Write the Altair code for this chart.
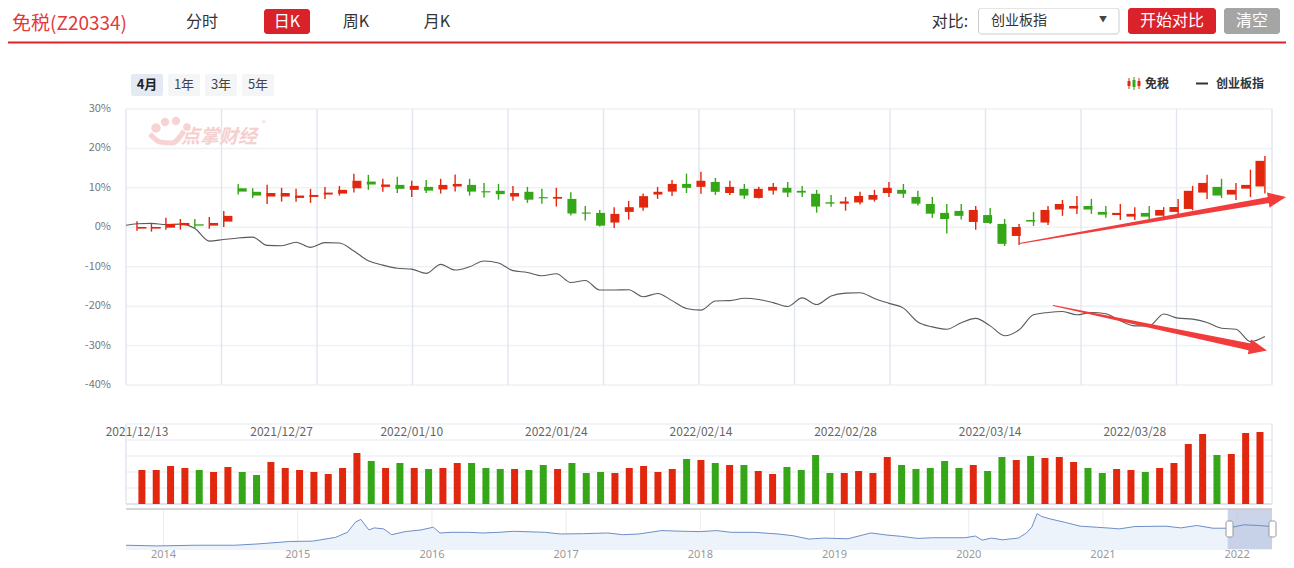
import math
import altair as alt
import pandas as pd
import numpy as np

FONT = "Noto Sans CJK SC"
OX, OY = 8, 8
W, H = 1278, 560


def px(v):
    return v - OX


def py(v):
    return v - OY


RED = "#e2270f"
GREEN = "#35a617"
HDR_RED = "#d9222a"

# ---------------- data ----------------
holidays = pd.to_datetime(["2022-01-03", "2022-01-31", "2022-02-01", "2022-02-02",
                           "2022-02-03", "2022-02-04", "2022-04-04", "2022-04-05"])
days = [d for d in pd.bdate_range("2021-12-13", "2022-04-12") if d not in holidays]
dates = [d.strftime("%Y/%m/%d") for d in days]

opens = [-0.34, -0.34, -0.1, 0.5, 0.76, 0.42, 1.44, 9.9, 9.0, 7.8,
         7.8, 7.45, 7.7, 8.3, 8.55, 9.9, 11.6, 10.25, 10.75, 9.5,
         10.25, 9.6, 10.35, 10.75, 9.15, 9.25, 7.8, 9.0, 7.65, 7.25,
         7.2, 3.75, 3.65, 1.2, 3.9, 5.0, 8.3, 9.05, 11.0, 10.25,
         11.5, 8.7, 9.75, 7.45, 9.3, 10.0, 9.25, 8.5, 6.35, 6.0,
         6.3, 7.0, 8.7, 9.5, 7.7, 5.9, 3.65, 4.15, 1.35, 3.1,
         0.85, -2.2, 1.85, 1.2, 4.5, 4.75, 5.4, 3.9, 3.1, 2.7,
         3.65, 2.95, 3.9, 4.65, 8.8, 10.25, 8.3, 9.8, 10.35]
closes = [0.08, 0.08, 0.85, 1.1, 0.42, 1.1, 2.9, 9.05, 8.05, 8.7,
          8.7, 8.05, 8.2, 8.8, 9.5, 11.8, 10.85, 10.85, 9.75, 10.5,
          9.3, 10.75, 11.0, 9.05, 8.85, 8.4, 8.7, 7.0, 7.35, 7.7,
          3.5, 3.45, 0.42, 3.4, 5.1, 7.9, 9.0, 11.0, 10.0, 11.8,
          9.0, 10.25, 8.05, 9.75, 10.25, 8.8, 8.8, 5.25, 6.0, 6.55,
          7.95, 8.2, 10.0, 8.5, 6.0, 3.45, 2.1, 2.9, 4.4, 1.1,
          -4.2, 0.08, 1.45, 4.4, 5.9, 5.4, 4.5, 3.2, 3.65, 3.4,
          2.7, 4.4, 5.15, 9.25, 11.25, 8.05, 9.5, 10.75, 16.85]
highs = [1.5, 0.85, 2.4, 2.1, 2.1, 2.6, 4.15, 11.0, 9.9, 10.8,
         10.0, 9.75, 9.75, 10.2, 10.5, 13.6, 13.3, 12.3, 12.8, 11.8,
         12.0, 12.3, 13.4, 12.3, 11.25, 11.0, 10.5, 10.25, 9.75, 10.0,
         8.9, 5.4, 4.4, 5.1, 6.7, 8.6, 10.25, 12.0, 13.6, 14.1,
         12.5, 11.8, 11.0, 10.25, 11.25, 11.5, 10.5, 9.5, 8.2, 7.7,
         9.0, 9.5, 11.5, 11.0, 9.25, 7.7, 5.9, 5.9, 5.4, 4.9,
         2.1, 0.85, 3.9, 5.4, 6.95, 7.95, 7.2, 5.4, 5.9, 5.1,
         5.4, 5.1, 7.2, 10.5, 13.3, 12.3, 11.25, 14.6, 18.1]
lows = [-0.85, -1.1, -0.6, -0.6, -0.4, -0.4, 0.08, 8.3, 7.45, 5.9,
        6.5, 6.45, 6.2, 7.2, 8.05, 8.8, 9.5, 9.0, 8.7, 7.7,
        8.7, 8.55, 9.05, 8.05, 7.55, 7.0, 6.75, 6.2, 6.0, 5.25,
        3.0, 1.7, 0.17, -0.17, 1.95, 4.2, 7.2, 7.95, 8.7, 8.5,
        8.2, 8.2, 7.2, 7.3, 8.3, 7.7, 7.7, 3.7, 5.2, 4.2,
        5.75, 6.5, 7.7, 7.45, 5.5, 2.4, -1.6, 1.95, -0.6, 0.85,
        -4.75, -4.5, 0.35, 0.6, 2.9, 3.4, 3.4, 2.4, 1.85, 1.85,
        2.1, 1.85, 2.95, 4.3, 7.2, 7.45, 6.95, 7.7, 8.55]
volumes = [34, 34, 38, 36, 34, 32, 37, 32, 29, 42,
           36, 34, 32, 30, 36, 51, 43, 36, 41, 36,
           35, 36, 41, 41, 36, 35, 35, 34, 39, 35,
           41, 31, 32, 31, 36, 38, 32, 35, 45,
           44, 41, 39, 39, 33, 30, 37, 34, 49, 31,
           31, 33, 31, 47, 39, 35, 36, 43, 36, 39,
           33, 47, 44, 48, 46, 47, 42, 36, 31, 35,
           34, 32, 36, 41, 60, 70, 49, 50, 71, 72]

cyb_x = [-0.76] + list(range(79))
cyb = [0.5, 0.9, 1.0, 0.7, 0.8, -0.3, -3.5, -3.1, -2.7, -2.5, -4.6,
       -4.7, -3.8, -5.1, -3.9, -4.0, -6.0, -8.5, -9.6, -10.4, -10.6,
       -11.7, -9.4, -10.85, -10.0, -8.55, -9.05, -11.0, -11.45, -12.3, -11.8,
       -14.0, -13.5, -15.9, -15.9, -15.85, -17.6, -16.8, -18.6, -20.6, -21.0,
       -18.7, -18.6, -18.0, -18.3, -19.1, -20.1, -17.9, -19.6, -17.4, -16.7,
       -16.6, -18.05, -19.3, -20.5, -24.0, -25.25, -25.85, -24.2, -23.1, -25.0,
       -27.5, -26.0, -22.2, -21.6, -21.35, -22.2, -21.6, -21.95, -23.7, -25.0,
       -25.0, -22.0, -23.05, -23.3, -24.15, -25.6, -25.85, -29.0, -27.7]

nav_year = [2013.72, 2013.95, 2014.24, 2014.53, 2014.71, 2014.94, 2015.11, 2015.28, 2015.37, 2015.43,
            2015.47, 2015.53, 2015.57, 2015.64, 2015.70, 2015.80, 2015.92, 2016.01, 2016.06, 2016.15,
            2016.27, 2016.38, 2016.50, 2016.61, 2016.84, 2016.96, 2017.13, 2017.31, 2017.42, 2017.54,
            2017.71, 2017.88, 2018.00, 2018.12, 2018.23, 2018.40, 2018.58, 2018.69, 2018.81, 2018.92,
            2019.10, 2019.21, 2019.27, 2019.39, 2019.50, 2019.62, 2019.73, 2019.97, 2020.05, 2020.10,
            2020.17, 2020.25, 2020.37, 2020.43, 2020.47, 2020.51, 2020.54, 2020.60, 2020.72, 2020.83,
            2020.95, 2021.06, 2021.12, 2021.24, 2021.47, 2021.58, 2021.70, 2021.82, 2021.93, 2022.05,
            2022.16, 2022.26]
nav_val = [14, 12, 14, 14, 18, 25, 26, 37, 52, 82,
           90, 59, 65, 62, 45, 54, 59, 67, 50, 52,
           52, 50, 52, 55, 52, 47, 48, 50, 45, 47,
           57, 55, 54, 57, 52, 52, 47, 42, 32, 35,
           33, 44, 50, 44, 40, 34, 36, 36, 41, 29,
           35, 30, 35, 50, 67, 107, 99, 92, 81, 70,
           67, 64, 62, 69, 70, 65, 72, 64, 64, 74,
           72, 69]
nav_years = list(range(2014, 2023))

y_ticks = [30, 20, 10, 0, -10, -20, -30, -40]
label_idx = [0, 10, 19, 29, 39, 49, 59, 69]

# ---------------- scales ----------------
X_DOM = [-0.76, 78.49]
X_MAIN = alt.Scale(domain=X_DOM, range=[px(126), px(1272)], nice=False, zero=False)
Y_MAIN = alt.Scale(domain=[-40, 30], range=[py(385), py(109)], nice=False, zero=False)
Y_VOL = alt.Scale(domain=[0, 80], range=[py(504), py(424)], nice=False, zero=False)
X_NAV = alt.Scale(domain=[2013.72, 2022.26], range=[px(126), px(1272)], nice=False, zero=False)
Y_NAV = alt.Scale(domain=[0, 119], range=[py(550), py(509.5)], nice=False, zero=False)

df = pd.DataFrame(dict(i=list(range(79)), date=dates, open=opens, close=closes,
                       high=highs, low=lows, vol=volumes))
df["color"] = np.where(df["close"] >= df["open"], RED, GREEN)

layers = []


def pix_x(f="x"):
    return alt.X(f"{f}:Q", scale=None, axis=None)


def pix_y(f="y"):
    return alt.Y(f"{f}:Q", scale=None, axis=None)


def texts(items, **kw):
    d = pd.DataFrame(items)
    d["x"] = d["x"].map(px)
    d["y"] = d["y"].map(py)
    return alt.Chart(d).mark_text(font=FONT, **kw).encode(x=pix_x(), y=pix_y(), text="t:N")


def rects(items, **kw):
    d = pd.DataFrame(items)
    for c in ["x", "x2"]:
        d[c] = d[c].map(px)
    for c in ["y", "y2"]:
        d[c] = d[c].map(py)
    return alt.Chart(d).mark_rect(**kw).encode(
        x=pix_x(), x2="x2:Q", y=pix_y(), y2="y2:Q",
        color=alt.Color("c:N", scale=None, legend=None))


# ---------------- main panel grid ----------------
layers.append(alt.Chart(pd.DataFrame({"v": y_ticks})).mark_rule(color="#eef1f5", strokeWidth=1.5).encode(
    y=alt.Y("v:Q", scale=Y_MAIN, axis=None), x=alt.value(px(126)), x2=alt.value(px(1272))))
vgrid = [X_DOM[0] + k * (X_DOM[1] - X_DOM[0]) / 12 for k in range(13)]
layers.append(alt.Chart(pd.DataFrame({"v": vgrid})).mark_rule(color="#e1e6ee", strokeWidth=1.4).encode(
    x=alt.X("v:Q", scale=X_MAIN, axis=None), y=alt.value(py(109)), y2=alt.value(py(385))))

# watermark (logo blobs + name)
layers.append(alt.Chart(pd.DataFrame({"x": [px(v) for v in [156, 165, 176, 187]],
                                      "y": [py(v) for v in [128, 122, 121, 127]],
                                      "s": [90, 70, 70, 60]}))
              .mark_point(filled=True, color="#f7d3d3", opacity=1)
              .encode(x=pix_x(), y=pix_y(), size=alt.Size("s:Q", scale=None, legend=None)))
layers.append(alt.Chart(pd.DataFrame({"x": [px(150), px(160), px(172), px(184)],
                                      "y": [py(134), py(142), py(143), py(131)], "a": [0, 0, 0, 0]}))
              .mark_line(color="#f7d3d3", strokeWidth=5, interpolate="monotone")
              .encode(x=pix_x(), y=pix_y(), detail="a:N"))
layers.append(texts([{"x": 181, "y": 137, "t": "点掌财经"}], fontSize=19, fontWeight="bold",
                    color="#f6cfcf", align="left", baseline="middle", fontStyle="italic"))
layers.append(texts([{"x": 262, "y": 124, "t": "®"}], fontSize=8, color="#f6cfcf", align="left",
                    baseline="middle"))

# y labels
layers.append(alt.Chart(pd.DataFrame({"v": y_ticks, "t": [f"{v}%" for v in y_ticks]}))
              .mark_text(font=FONT, fontSize=11, color="#777777", align="right", baseline="middle")
              .encode(y=alt.Y("v:Q", scale=Y_MAIN, axis=None), x=alt.value(px(111)), text="t:N"))

# comparison line
layers.append(alt.Chart(pd.DataFrame({"i": cyb_x, "v": cyb}))
              .mark_line(color="#5a5a5a", strokeWidth=1.1, interpolate="monotone")
              .encode(x=alt.X("i:Q", scale=X_MAIN, axis=None), y=alt.Y("v:Q", scale=Y_MAIN, axis=None)))

# candles
layers.append(alt.Chart(df).mark_rule(strokeWidth=1.4).encode(
    x=alt.X("i:Q", scale=X_MAIN, axis=None),
    y=alt.Y("low:Q", scale=Y_MAIN, axis=None), y2="high:Q",
    color=alt.Color("color:N", scale=None, legend=None)))
layers.append(alt.Chart(df).mark_bar(size=9).encode(
    x=alt.X("i:Q", scale=X_MAIN, axis=None),
    y=alt.Y("open:Q", scale=Y_MAIN, axis=None), y2="close:Q",
    color=alt.Color("color:N", scale=None, legend=None)))

# ---------------- volume panel ----------------
layers.append(alt.Chart(pd.DataFrame({"v": [16, 32, 48, 64, 80]})).mark_rule(color="#eef1f5", strokeWidth=1.5).encode(
    y=alt.Y("v:Q", scale=Y_VOL, axis=None), x=alt.value(px(126)), x2=alt.value(px(1272))))
layers.append(alt.Chart(pd.DataFrame({"v": [0]})).mark_rule(color="#d3dbe8", strokeWidth=1.5).encode(
    y=alt.Y("v:Q", scale=Y_VOL, axis=None), x=alt.value(px(126)), x2=alt.value(px(1272))))
layers.append(alt.Chart(pd.DataFrame({"v": [X_DOM[0], X_DOM[1]]})).mark_rule(color="#e1e6ee", strokeWidth=1.4).encode(
    x=alt.X("v:Q", scale=X_MAIN, axis=None), y=alt.value(py(424)), y2=alt.value(py(504))))
layers.append(alt.Chart(df).mark_bar(size=7).encode(
    x=alt.X("i:Q", scale=X_MAIN, axis=None),
    y=alt.Y("vol:Q", scale=Y_VOL, axis=None), y2=alt.datum(0),
    color=alt.Color("color:N", scale=None, legend=None)))
layers.append(alt.Chart(pd.DataFrame({"i": label_idx, "t": [dates[k] for k in label_idx]}))
              .mark_text(font=FONT, fontSize=12, color="#666666", baseline="middle")
              .encode(x=alt.X("i:Q", scale=X_MAIN, axis=None), y=alt.value(py(432)), text="t:N"))

# ---------------- navigator ----------------
nav = pd.DataFrame({"yr": nav_year, "v": nav_val})
layers.append(alt.Chart(pd.DataFrame({"yr": nav_years})).mark_rule(color="#ebebeb", strokeWidth=1).encode(
    x=alt.X("yr:Q", scale=X_NAV, axis=None), y=alt.value(py(509)), y2=alt.value(py(549))))
layers.append(alt.Chart(nav).mark_area(color="#edf3fa", opacity=1).encode(
    x=alt.X("yr:Q", scale=X_NAV, axis=None), y=alt.Y("v:Q", scale=Y_NAV, axis=None), y2=alt.datum(0)))
layers.append(alt.Chart(pd.DataFrame({"a": [2021.93], "b": [2022.26]})).mark_rect(color="#b9c6e1", opacity=0.75).encode(
    x=alt.X("a:Q", scale=X_NAV, axis=None), x2="b:Q", y=alt.value(py(509)), y2=alt.value(py(549))))
layers.append(alt.Chart(nav).mark_line(color="#6d8ec6", strokeWidth=1).encode(
    x=alt.X("yr:Q", scale=X_NAV, axis=None), y=alt.Y("v:Q", scale=Y_NAV, axis=None)))
layers.append(alt.Chart(pd.DataFrame({"v": [0]})).mark_rule(color="#c8c8c8", strokeWidth=1.5).encode(
    y=alt.value(py(509)), x=alt.value(px(126)), x2=alt.value(px(1272))))
layers.append(alt.Chart(pd.DataFrame({"yr": nav_years, "t": [str(y) for y in nav_years]}))
              .mark_text(font="Noto Sans", fontSize=11, color="#999999", baseline="middle")
              .encode(x=alt.X("yr:Q", scale=X_NAV, axis=None), y=alt.value(py(555)), text="t:N"))
layers.append(rects([{"x": 1226, "x2": 1233, "y": 521, "y2": 537, "c": "#ffffff"},
                     {"x": 1269, "x2": 1276, "y": 521, "y2": 537, "c": "#ffffff"}],
                    cornerRadius=2, stroke="#999999", strokeWidth=1))

# ---------------- header ----------------
layers.append(rects([{"x": 0, "x2": 1294, "y": 41.5, "y2": 43.5, "c": HDR_RED}]))
layers.append(rects([{"x": 264, "x2": 310, "y": 9, "y2": 34, "c": HDR_RED},
                     {"x": 1128, "x2": 1216, "y": 8, "y2": 34, "c": HDR_RED},
                     {"x": 1224, "x2": 1280, "y": 8, "y2": 34, "c": "#a5a5a5"}], cornerRadius=3))
layers.append(rects([{"x": 978.5, "x2": 1119, "y": 8, "y2": 34, "c": "#ffffff"}],
                    cornerRadius=3, stroke="#cccccc", strokeWidth=1))
layers.append(texts([{"x": 12, "y": 24, "t": "免税(Z20334)"}], fontSize=19, color="#e4393c",
                    align="left", baseline="middle"))
layers.append(texts([{"x": 202, "y": 21.5, "t": "分时"}, {"x": 356, "y": 21.5, "t": "周K"},
                     {"x": 437, "y": 21.5, "t": "月K"}, {"x": 950, "y": 21.5, "t": "对比:"}],
                    fontSize=16, color="#333333", align="center", baseline="middle"))
layers.append(texts([{"x": 287, "y": 21.5, "t": "日K"}, {"x": 1172, "y": 21, "t": "开始对比"},
                     {"x": 1252, "y": 21, "t": "清空"}],
                    fontSize=16, color="#ffffff", align="center", baseline="middle"))
layers.append(texts([{"x": 991, "y": 20.5, "t": "创业板指"}], fontSize=14, color="#333333",
                    align="left", baseline="middle"))
layers.append(texts([{"x": 1103, "y": 20, "t": "▼"}], fontSize=8, color="#444444",
                    align="center", baseline="middle"))

# range buttons
layers.append(rects([{"x": 131, "x2": 163, "y": 74, "y2": 96, "c": "#e4eaf4"},
                     {"x": 168, "x2": 200, "y": 74, "y2": 96, "c": "#f4f5f7"},
                     {"x": 205, "x2": 237, "y": 74, "y2": 96, "c": "#f4f5f7"},
                     {"x": 242, "x2": 274, "y": 74, "y2": 96, "c": "#f4f5f7"}], cornerRadius=2))
layers.append(texts([{"x": 147, "y": 85, "t": "4月"}], fontSize=13, fontWeight="bold",
                    color="#222222", align="center", baseline="middle"))
layers.append(texts([{"x": 184, "y": 85, "t": "1年"}, {"x": 221, "y": 85, "t": "3年"},
                     {"x": 258, "y": 85, "t": "5年"}], fontSize=13, color="#444444",
                    align="center", baseline="middle"))

# legend
leg = pd.DataFrame({"x": [px(1129), px(1134), px(1139)], "lo": [py(78), py(77), py(78)],
                    "hi": [py(89), py(90), py(89)], "b1": [py(81), py(80), py(81)],
                    "b2": [py(86), py(87), py(86)], "c": [RED, GREEN, RED]})
layers.append(alt.Chart(leg).mark_rule(strokeWidth=1).encode(
    x=pix_x(), y=pix_y("lo"), y2="hi:Q", color=alt.Color("c:N", scale=None, legend=None)))
layers.append(alt.Chart(leg).mark_bar(size=3).encode(
    x=pix_x(), y=pix_y("b1"), y2="b2:Q", color=alt.Color("c:N", scale=None, legend=None)))
layers.append(texts([{"x": 1145, "y": 83.5, "t": "免税"}, {"x": 1216, "y": 83.5, "t": "创业板指"}],
                    fontSize=12, fontWeight="bold", color="#333333", align="left", baseline="middle"))
layers.append(alt.Chart(pd.DataFrame({"x": [px(1196)], "x2": [px(1208)], "y": [py(83.5)]}))
              .mark_rule(color="#333333", strokeWidth=2).encode(x=pix_x(), x2="x2:Q", y=pix_y()))

# ---------------- arrows ----------------
ARROW = "#f23b3b"
arrows = [((1019.5, 243.5), (1286.0, 197.0), 6.0), ((1053.3, 305.5), (1267.0, 350.5), 7.0)]
trail_rows, head_rows = [], []
HEAD_L = 18.0
for k, (t, p, wmax) in enumerate(arrows):
    dx, dy = p[0] - t[0], p[1] - t[1]
    ln = math.hypot(dx, dy)
    ux, uy = dx / ln, dy / ln
    base = (p[0] - (HEAD_L - 2) * ux, p[1] - (HEAD_L - 2) * uy)
    trail_rows.append({"a": k, "x": px(t[0]), "y": py(t[1]), "s": 1.0})
    trail_rows.append({"a": k, "x": px(base[0]), "y": py(base[1]), "s": wmax})
    ang = math.degrees(math.atan2(dy, dx)) % 360
    head_rows.append({"x": px(p[0] - HEAD_L / 2 * ux), "y": py(p[1] - HEAD_L / 2 * uy), "ang": ang})

layers.append(alt.Chart(pd.DataFrame(trail_rows)).mark_trail(color=ARROW).encode(
    x=pix_x(), y=pix_y(), size=alt.Size("s:Q", scale=None, legend=None), detail="a:N"))
layers.append(alt.Chart(pd.DataFrame(head_rows)).mark_point(
    shape="M -1 -0.85 L 1 0 L -1 0.85 Z", filled=True, color=ARROW, opacity=1, size=HEAD_L ** 2)
    .encode(x=pix_x(), y=pix_y(), angle=alt.Angle("ang:Q", scale=None)))

chart = (alt.layer(*layers)
         .resolve_scale(x="independent", y="independent")
         .properties(width=W, height=H, autosize=alt.AutoSizeParams(type="none"), padding=0,
                     background="white")
         .configure_view(stroke=None))

chart.save("out.html", embed_options={"renderer": "svg", "actions": False})
